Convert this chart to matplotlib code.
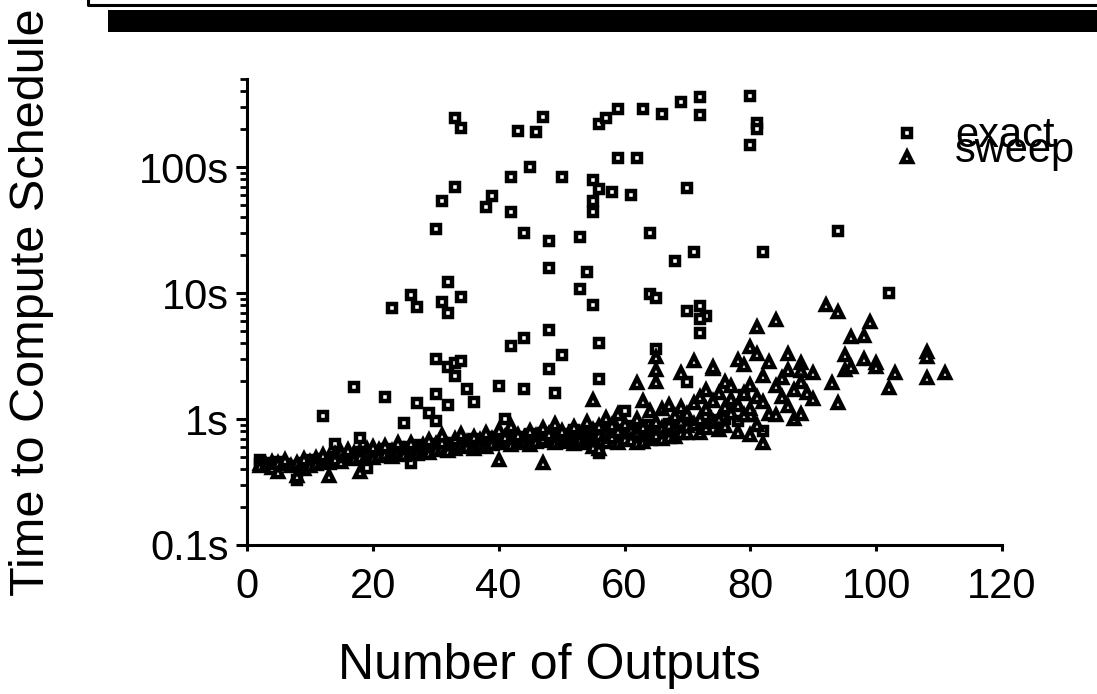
import numpy as np
import matplotlib.pyplot as plt
from matplotlib.ticker import LogLocator, NullFormatter, FixedLocator
from matplotlib.patches import Rectangle
from matplotlib.lines import Line2D

plt.rcParams['font.family'] = ['Liberation Sans', 'DejaVu Sans']

# exact schedule: number of outputs vs. seconds
exact_x = [33, 34, 43, 45, 42, 33, 31, 39, 38, 42, 30, 44, 32, 26, 34, 23, 27, 31, 32, 42,
           44, 30, 32, 33, 34, 33, 17, 22, 27, 30, 32, 35, 36, 40, 44, 12,
           47, 46, 56, 57, 59, 63, 66, 69, 72, 72, 80, 81, 81, 80, 59, 62, 50, 55, 56, 58,
           61, 55, 55, 70, 48, 53, 64, 82, 71, 68, 48, 54, 53, 55, 64, 65, 70, 72, 73, 72,
           72, 48, 50, 48, 56, 49, 56, 65, 60, 94, 102, 70, 79, 73, 82, 56, 29, 30, 25, 14,
           18, 41, 8, 2,
           2, 3, 4, 5, 6, 7, 9, 10, 11, 12, 13, 14, 15, 16, 17, 18, 19, 20, 21, 22,
           23, 24, 25, 26, 27, 28, 29, 30, 31, 32, 33, 34, 35, 36, 37, 38, 39, 40, 41, 42,
           43, 44, 45, 46, 47, 48, 49, 50, 51, 52, 53, 54, 55, 56, 57, 58, 60, 61, 62, 64,
           66, 67, 68, 70, 72, 74, 76, 78, 80, 19, 26]
exact_y = [245, 204, 193, 100, 83, 69, 54, 59, 48, 44, 32, 30, 12.2, 9.6, 9.3, 7.6, 7.7, 8.5, 6.9, 3.8,
           4.4, 3.0, 2.6, 2.8, 2.9, 2.2, 1.8, 1.5, 1.34, 1.58, 1.29, 1.73, 1.36, 1.83, 1.73, 1.05,
           250, 190, 219, 245, 288, 288, 264, 328, 360, 258, 366, 223, 200, 150, 118, 118, 83, 79, 67, 63,
           60, 54, 44, 68, 26, 28, 30, 21, 21, 18, 15.8, 14.7, 10.7, 8.0, 9.8, 9.1, 7.2, 7.9, 6.6, 6.2,
           4.8, 5.1, 3.2, 2.5, 4.0, 1.6, 2.08, 3.6, 1.15, 31, 10, 1.97, 1.55, 1.06, 0.8, 0.54, 1.12, 0.96, 0.93, 0.63,
           0.71, 1.0, 0.33, 0.47,
           0.44, 0.45, 0.43, 0.46, 0.44, 0.42, 0.45, 0.47, 0.46, 0.48, 0.47, 0.50, 0.49, 0.52, 0.50, 0.55, 0.53, 0.56, 0.54, 0.58,
           0.55, 0.57, 0.60, 0.56, 0.62, 0.58, 0.60, 0.63, 0.59, 0.65, 0.62, 0.66, 0.64, 0.70, 0.65, 0.68, 0.72, 0.66, 0.70, 0.74,
           0.68, 0.72, 0.76, 0.70, 0.78, 0.74, 0.80, 0.72, 0.76, 0.82, 0.78, 0.74, 0.84, 0.80, 0.78, 0.86, 0.82, 0.88, 0.80, 0.90,
           0.85, 0.92, 0.88, 0.95, 0.90, 0.98, 1.0, 0.96, 1.05, 0.41, 0.45]

# sweep heuristic
sweep_x = [2, 2, 3, 4, 4, 5, 5, 6, 6, 7, 8, 8, 9, 9, 10, 10, 11, 11, 12, 12,
           13, 13, 13, 14, 14, 15, 15, 16, 16, 17, 17, 18, 18, 18, 19, 19, 20, 20, 20, 21,
           21, 22, 22, 23, 23, 24, 24, 24, 25, 25, 26, 26, 26, 27, 27, 28, 28, 29, 29, 29,
           30, 30, 31, 31, 31, 32, 32, 33, 33, 33, 34, 34, 35, 35, 36, 36, 36, 37, 37, 38,
           38, 38, 39, 39, 40, 40, 40, 41, 41, 42, 42, 42, 43, 43, 44, 44, 45, 45, 45, 46,
           46, 47, 47, 47, 48, 48, 49, 49, 49, 50, 50, 51, 51, 52, 52, 52, 53, 53, 54, 54,
           54, 55, 55, 55, 55, 56, 56, 56, 57, 57, 57, 58, 58, 59, 59, 59, 60, 60, 60, 61,
           61, 62, 62, 62, 62, 63, 63, 63, 64, 64, 64, 65, 65, 65, 65, 65, 66, 66, 66, 67,
           67, 67, 68, 68, 68, 69, 69, 69, 69, 70, 70, 70, 71, 71, 71, 72, 72, 72, 73, 73,
           73, 74, 74, 74, 74, 75, 75, 75, 76, 76, 76, 77, 77, 77, 78, 78, 78, 79, 79, 79,
           80, 80, 80, 80, 81, 81, 81, 81, 82, 82, 82, 83, 83, 84, 84, 84, 85, 85, 86, 86,
           86, 87, 87, 88, 88, 88, 88, 89, 90, 90, 92, 93, 94, 94, 95, 95, 96, 96, 98, 98,
           99, 100, 100, 102, 103, 108, 108, 108, 111]
sweep_y = [0.44, 0.42, 0.43, 0.46, 0.41, 0.38, 0.45, 0.44, 0.47, 0.42, 0.35, 0.45, 0.40, 0.48, 0.46, 0.42, 0.49, 0.44, 0.47, 0.52,
           0.35, 0.50, 0.45, 0.53, 0.48, 0.55, 0.46, 0.51, 0.57, 0.54, 0.48, 0.38, 0.56, 0.50, 0.58, 0.52, 0.55, 0.49, 0.60, 0.57,
           0.51, 0.53, 0.61, 0.56, 0.50, 0.59, 0.54, 0.64, 0.57, 0.52, 0.60, 0.55, 0.65, 0.58, 0.53, 0.62, 0.56, 0.60, 0.54, 0.68,
           0.63, 0.57, 0.59, 0.66, 0.74, 0.61, 0.56, 0.64, 0.58, 0.70, 0.62, 0.76, 0.66, 0.60, 0.63, 0.72, 0.58, 0.68, 0.61, 0.65,
           0.78, 0.60, 0.70, 0.63, 0.47, 0.67, 0.82, 0.64, 0.72, 0.69, 0.62, 0.88, 0.66, 0.75, 0.71, 0.64, 0.68, 0.80, 0.62, 0.73,
           0.66, 0.45, 0.70, 0.85, 0.67, 0.76, 0.72, 0.64, 0.92, 0.69, 0.80, 0.74, 0.66, 0.71, 0.86, 0.63, 0.76, 0.68, 0.73, 0.95,
           0.64, 0.70, 1.42, 0.82, 0.60, 0.75, 0.88, 0.58, 0.78, 1.02, 0.66, 0.72, 0.90, 0.80, 0.65, 1.1, 0.76, 0.92, 0.70, 0.82,
           0.68, 1.93, 0.78, 1.0, 0.65, 1.4, 0.66, 0.86, 0.80, 1.15, 0.70, 3.1, 2.45, 1.97, 0.95, 0.75, 0.85, 1.2, 0.70, 0.90,
           0.72, 1.3, 0.86, 0.72, 1.05, 2.3, 0.95, 1.25, 0.78, 0.77, 1.1, 0.88, 2.9, 1.35, 0.92, 0.77, 1.5, 1.0, 0.85, 1.2,
           1.7, 2.5, 2.6, 1.4, 0.95, 1.0, 1.6, 0.82, 1.97, 1.25, 0.88, 1.83, 1.12, 1.45, 2.95, 0.79, 1.3, 2.7, 1.08, 1.6,
           3.7, 1.86, 1.2, 0.75, 5.4, 3.3, 1.5, 0.9, 1.36, 0.64, 2.2, 2.85, 1.1, 6.1, 1.83, 1.08, 1.5, 2.1, 3.3, 2.45,
           1.27, 1.7, 1.0, 2.8, 2.4, 1.97, 1.1, 1.6, 2.3, 1.44, 8.0, 1.93, 7.1, 1.34, 3.2, 2.45, 4.5, 2.6, 4.6, 3.0,
           5.9, 2.8, 2.6, 1.76, 2.3, 3.4, 3.1, 2.1, 2.3]

ytick_vals = [0.1, 1, 10, 100]
ytick_labels = ['0.1s', '1s', '10s', '100s']
xtick_vals = [0, 20, 40, 60, 80, 100, 120]

W, H = 1097, 694
fig = plt.figure(figsize=(W / 100, H / 100), dpi=100)
ax = fig.add_axes([247 / W, 1 - 545 / H, (1002 - 247) / W, (545 - 79) / H])

sq = dict(marker='s', markersize=6.4)
tri = dict(marker='^', markersize=7.6)
mk = dict(linestyle='none', markerfacecolor='white', markeredgecolor='black',
          markeredgewidth=3.2, clip_on=False)
ax.plot(exact_x, exact_y, **sq, **mk)
ax.plot(sweep_x, sweep_y, **tri, **mk)

ax.set_yscale('log')
ax.set_ylim(0.1, 500)
ax.set_xlim(0, 120)
ax.yaxis.set_major_locator(FixedLocator(ytick_vals))
ax.set_yticklabels(ytick_labels)
ax.yaxis.set_minor_locator(LogLocator(base=10, subs=np.arange(2, 10)))
ax.yaxis.set_minor_formatter(NullFormatter())
ax.set_xticks(xtick_vals)

for s in ['top', 'right']:
    ax.spines[s].set_visible(False)
for s in ['left', 'bottom']:
    ax.spines[s].set_linewidth(2.2)

ax.tick_params(axis='both', which='major', labelsize=30, direction='out', width=2.2)
ax.tick_params(axis='y', which='major', length=8, pad=5)
ax.tick_params(axis='y', which='minor', length=5, width=2)
ax.tick_params(axis='x', which='major', length=4, pad=12)

ax.set_xlabel('Number of Outputs', fontsize=36)
ax.xaxis.set_label_coords(0.40, -0.21)
ax.set_ylabel('Time to Compute Schedule', fontsize=35)
ax.yaxis.set_label_coords(-0.255, 0.521)

# legend: markers and labels placed like the original (labels overlap)
fig.lines.append(Line2D([907 / W], [1 - 133 / H], transform=fig.transFigure, **sq, **mk))
fig.lines.append(Line2D([907 / W], [1 - 157 / H], transform=fig.transFigure, **tri, **mk))
fig.text(955 / W, 1 - 147 / H, 'exact', fontsize=30, va='baseline')
fig.text(955 / W, 1 - 162 / H, 'sweep', fontsize=30, va='baseline')

# clipped title box at the top
fig.patches.append(Rectangle((108 / W, 1 - 32 / H), 1, 22 / H, transform=fig.transFigure,
                             facecolor='black', edgecolor='none'))
fig.lines.append(Line2D([88 / W, 88 / W, 1], [1, 1 - 5 / H, 1 - 5 / H], transform=fig.transFigure,
                        color='black', linewidth=2.2))

fig.savefig('out.png', dpi=100)
